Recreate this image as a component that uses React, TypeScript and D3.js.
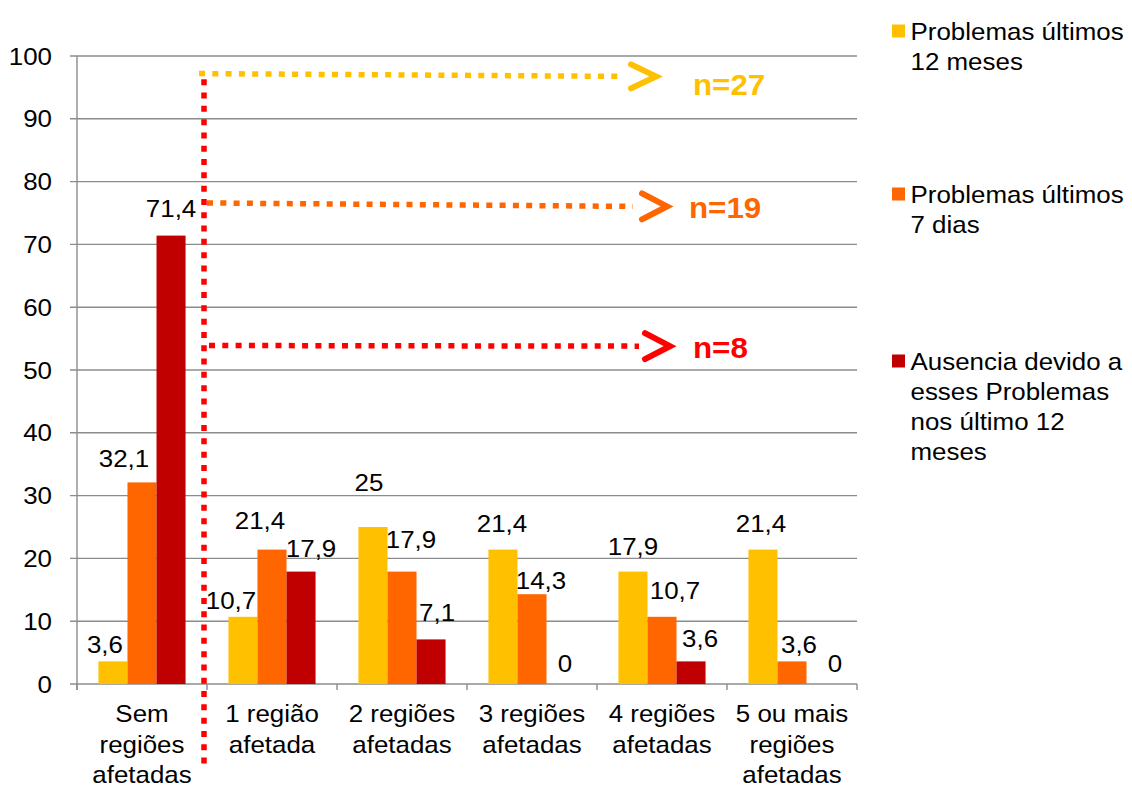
import React from "react";
import * as d3 from "d3";

// Chart data
const categories = [
  "Sem regiões afetadas",
  "1 região afetada",
  "2 regiões afetadas",
  "3 regiões afetadas",
  "4 regiões afetadas",
  "5 ou mais regiões afetadas",
];
const categoryLines = [
  ["Sem", "regiões", "afetadas"],
  ["1 região", "afetada"],
  ["2 regiões", "afetadas"],
  ["3 regiões", "afetadas"],
  ["4 regiões", "afetadas"],
  ["5 ou mais", "regiões", "afetadas"],
];
const seriesNames = [
  "Problemas últimos 12 meses",
  "Problemas últimos 7 dias",
  "Ausencia devido a esses Problemas nos último 12 meses",
];
const legendLines = [
  ["Problemas últimos", "12 meses"],
  ["Problemas últimos", "7 dias"],
  ["Ausencia devido a", "esses Problemas", "nos último 12", "meses"],
];
const problems12m = [3.6, 10.7, 25, 21.4, 17.9, 21.4];
const problems7d = [32.1, 21.4, 17.9, 14.3, 10.7, 3.6];
const absence12m = [71.4, 17.9, 7.1, 0, 3.6, 0];
const yTicks = [0, 10, 20, 30, 40, 50, 60, 70, 80, 90, 100];

// Sample sizes shown beside the arrows
const sampleLabels = ["n=27", "n=19", "n=8"];
const sampleLevels = [97.2, 76.6, 53.9];

const seriesValues = [problems12m, problems7d, absence12m];

// Layout / styles
const W = 1132;
const H = 787;
const plot = { left: 77, right: 857, top: 56, bottom: 684 };
const colors = ["#FFC000", "#FF6600", "#C00000"];
const arrowColors = ["#FFC000", "#FF6600", "#FF0000"];
const gridColor = "#8C8C8C";
const FONT = "'Liberation Sans', Arial, sans-serif";
const STRETCH = 1.08;

// Hand-placed value label offsets (dx from bar centre, gap above bar top)
const labelDx = [
  [-8, -12, -4, -1, 0, -2],
  [-18, -12, 9, 9, 13, 7],
  [0, 10, 6, 4, 9, 14],
];
const labelLift = [
  [8, 8, 36, 18, 17, 18],
  [15, 21, 24, 5, 18, 8],
  [19, 15, 18, 12, 14, 12],
];

function T({ x, y, children, size = 24, anchor = "middle", fill = "#000", weight = "normal" }: any) {
  return (
    <text
      transform={`translate(${x},${y}) scale(${STRETCH},1)`}
      textAnchor={anchor}
      fontSize={size}
      fontFamily={FONT}
      fontWeight={weight}
      fill={fill}
    >
      {children}
    </text>
  );
}

export default function App() {
  const x = d3.scaleBand<string>().domain(categories).range([plot.left, plot.right]).padding(0);
  const step = x.bandwidth();
  const inner = d3
    .scaleBand<string>()
    .domain(seriesNames)
    .range([step * 0.165, step * 0.835])
    .padding(0);
  const y = d3.scaleLinear().domain([0, 100]).range([plot.bottom, plot.top]);

  const boundaries = d3.range(categories.length + 1).map((i) => plot.left + i * step);
  const dividerX = boundaries[1] - 3;

  // Dotted arrows from the divider to the sample-size labels
  const arrows = [
    { x0: dividerX - 5, x1: 624, yv0: sampleLevels[0], yv1: sampleLevels[0] - 0.45, tip: 656, spread: 12 },
    { x0: dividerX + 3, x1: 633, yv0: sampleLevels[1], yv1: sampleLevels[1] - 0.55, tip: 667, spread: 13 },
    { x0: dividerX + 5, x1: 639, yv0: sampleLevels[2], yv1: sampleLevels[2] - 0.1, tip: 670, spread: 13 },
  ];
  const nLabelX = [693, 689, 693];
  const nLabelDy = [19, 12, 12];

  return (
    <svg
      width={W}
      height={H}
      style={{ position: "absolute", left: 0, top: 0, background: "#fff" }}
    >
      {/* gridlines */}
      {yTicks.map((t) => (
        <line
          key={`g${t}`}
          x1={plot.left - 7}
          x2={plot.right}
          y1={y(t)}
          y2={y(t)}
          stroke={gridColor}
          strokeWidth={1.4}
        />
      ))}
      {/* y axis */}
      <line x1={plot.left} x2={plot.left} y1={plot.top} y2={plot.bottom + 6} stroke={gridColor} strokeWidth={1.4} />
      {boundaries.map((b, i) => (
        <line key={`xt${i}`} x1={b} x2={b} y1={plot.bottom} y2={plot.bottom + 6} stroke={gridColor} strokeWidth={1.4} />
      ))}
      {yTicks.map((t) => (
        <T key={`yt${t}`} x={52} y={y(t) + 8.5} anchor="end">
          {t}
        </T>
      ))}

      {/* bars */}
      {categories.map((c, ci) => (
        <g key={c} transform={`translate(${x(c)},0)`}>
          {seriesNames.map((s, si) => {
            const v = seriesValues[si][ci];
            return (
              <rect
                key={s}
                x={inner(s)}
                y={y(v)}
                width={inner.bandwidth()}
                height={plot.bottom - y(v)}
                fill={colors[si]}
              />
            );
          })}
        </g>
      ))}

      {/* value labels */}
      {categories.map((c, ci) =>
        seriesNames.map((s, si) => {
          const v = seriesValues[si][ci];
          const cx = (x(c) as number) + (inner(s) as number) + inner.bandwidth() / 2 + labelDx[si][ci];
          return (
            <T key={`l${ci}-${si}`} x={cx} y={y(v) - labelLift[si][ci]}>
              {String(v).replace(".", ",")}
            </T>
          );
        })
      )}

      {/* category labels */}
      {categories.map((c, ci) =>
        categoryLines[ci].map((line, li) => (
          <T key={`c${ci}-${li}`} x={(x(c) as number) + step / 2} y={722 + li * 30.5}>
            {line}
          </T>
        ))
      )}

      {/* divider */}
      <line
        x1={dividerX}
        x2={dividerX}
        y1={y(96.3)}
        y2={766}
        stroke="#FF0000"
        strokeWidth={5.5}
        strokeDasharray="6 7.3"
      />

      {/* arrows */}
      {arrows.map((a, i) => {
        const ya = y(a.yv0);
        const yb = y(a.yv1);
        return (
          <g key={`a${i}`}>
            <line
              x1={a.x0}
              x2={a.x1}
              y1={ya}
              y2={yb}
              stroke={arrowColors[i]}
              strokeWidth={5.5}
              strokeDasharray="6 7.3"
            />
            <path
              d={`M${a.tip - 25},${yb - a.spread}L${a.tip},${yb}L${a.tip - 25},${yb + a.spread}`}
              fill="none"
              stroke={arrowColors[i]}
              strokeWidth={6}
              strokeLinecap="round"
              strokeLinejoin="miter"
            />
            <T x={nLabelX[i]} y={yb + nLabelDy[i]} anchor="start" size={29} weight="bold" fill={arrowColors[i]}>
              {sampleLabels[i]}
            </T>
          </g>
        );
      })}

      {/* legend */}
      {legendLines.map((lines, i) => {
        const base = [40, 203, 370][i];
        return (
          <g key={`lg${i}`}>
            <rect x={892} y={base - 15.5} width={13} height={13} fill={colors[i]} />
            {lines.map((ln, li) => (
              <T key={li} x={910.5} y={base + li * 30} anchor="start">
                {ln}
              </T>
            ))}
          </g>
        );
      })}
    </svg>
  );
}
